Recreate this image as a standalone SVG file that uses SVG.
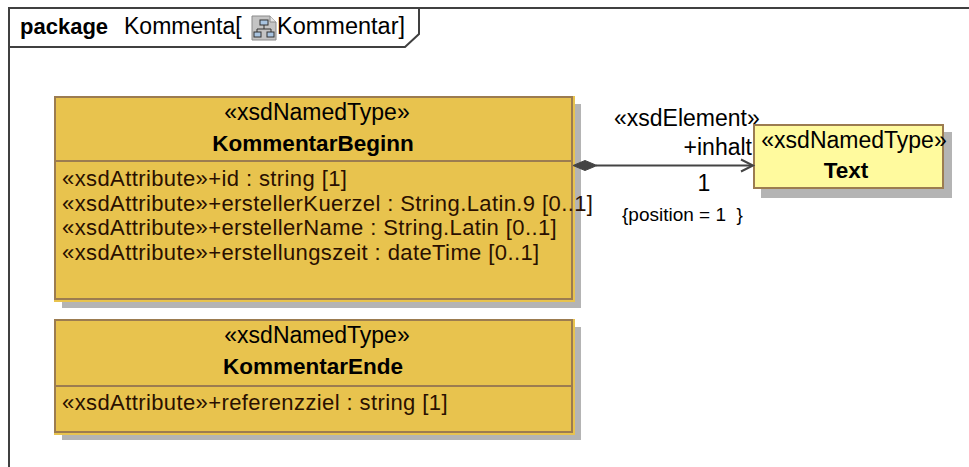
<svg xmlns="http://www.w3.org/2000/svg" width="969" height="467" viewBox="0 0 969 467">
<style>
text{font-family:"Liberation Sans",Arial,sans-serif;font-size:23px;fill:#000}
.b{font-weight:bold;font-size:22.5px}
.m{text-anchor:middle}
.attr{fill:#2a1000;font-size:22px;letter-spacing:0.4px}
.sh{fill:#b4b4b4}
.cls{fill:#e8c34e}
.bd{fill:none;stroke:#9c7c50;stroke-width:2}
.txt{fill:#fffa9e}
.sm{font-size:19px}
.conn{fill:none;stroke:#444;stroke-width:2}
</style>
<rect width="969" height="467" fill="#fff"/>
<g id="package">
<path d="M9 467 V8 H969" fill="none" stroke="#404040" stroke-width="2"/>
<path d="M9 47 H405 L419 34 V8" fill="none" stroke="#404040" stroke-width="2"/>
<text x="20" y="34" class="b" style="font-size:22px">package</text>
<text x="124" y="34">Kommenta[</text>
<g id="icon">
<path d="M252 16 H270 L276 22 V40 H252 Z" fill="#c4c4c4" stroke="#8a8a8a" stroke-width="1"/>
<path d="M270 16 V22 H276" fill="#e6e6e6" stroke="#8a8a8a" stroke-width="1"/>
<rect x="260" y="20" width="8" height="5" fill="#a9c4e0" stroke="#333" stroke-width="1"/>
<path d="M264 25 V29 M257 29 H271 M257 29 V32 M271 29 V32" stroke="#333" stroke-width="1" fill="none"/>
<rect x="254" y="32" width="7" height="5" fill="#a9c4e0" stroke="#333" stroke-width="1"/>
<rect x="267" y="32" width="7" height="5" fill="#a9c4e0" stroke="#333" stroke-width="1"/>
</g>
<text x="277" y="34" style="font-size:23.5px">Kommentar]</text>
</g>
<g id="KommentarBeginn">
<rect class="sh" x="62" y="104" width="519" height="204"/>
<rect class="cls" x="54" y="96" width="521" height="206"/>
<rect class="bd" x="55" y="97" width="517" height="202"/>
<line x1="55" y1="161" x2="572" y2="161" stroke="#9c7c50" stroke-width="2"/>
<text x="317" y="120" class="m">«xsdNamedType»</text>
<text x="313" y="151" class="m b">KommentarBeginn</text>
<text x="62" y="186" class="attr">«xsdAttribute»+id : string [1]</text>
<text x="62" y="210.7" class="attr">«xsdAttribute»+erstellerKuerzel : String.Latin.9 [0..1]</text>
<text x="62" y="235.4" class="attr">«xsdAttribute»+erstellerName : String.Latin [0..1]</text>
<text x="62" y="260.1" class="attr">«xsdAttribute»+erstellungszeit : dateTime [0..1]</text>
</g>
<g id="KommentarEnde">
<rect class="sh" x="62" y="327" width="519" height="113"/>
<rect class="cls" x="54" y="319" width="521" height="116"/>
<rect class="bd" x="55" y="320" width="517" height="112"/>
<line x1="55" y1="386" x2="572" y2="386" stroke="#9c7c50" stroke-width="2"/>
<text x="317" y="343" class="m">«xsdNamedType»</text>
<text x="313" y="374" class="m b">KommentarEnde</text>
<text x="62" y="410" class="attr">«xsdAttribute»+referenzziel : string [1]</text>
</g>
<g id="Text">
<rect class="sh" x="761" y="132" width="191" height="66"/>
<rect class="txt" x="753" y="124" width="191" height="65"/>
<rect class="bd" x="754" y="125" width="189" height="63"/>
<text x="854" y="148" class="m">«xsdNamedType»</text>
<text x="846" y="178" class="m b">Text</text>
</g>
<g id="connectors">
<line class="conn" x1="596" y1="165.5" x2="752" y2="165.5"/>
<path d="M573 165.5 L585 160.5 L597 165.5 L585 170.5 Z" fill="#444" stroke="#444" stroke-width="1"/>
<path class="conn" d="M741 159.5 L753 165.5 L741 171.5"/>
<text x="614" y="126">«xsdElement»</text>
<text x="752" y="155" style="text-anchor:end">+inhalt</text>
<text x="704" y="191" class="m">1</text>
<text x="622" y="221" class="sm" xml:space="preserve">{position = 1  }</text>
</g>
</svg>
